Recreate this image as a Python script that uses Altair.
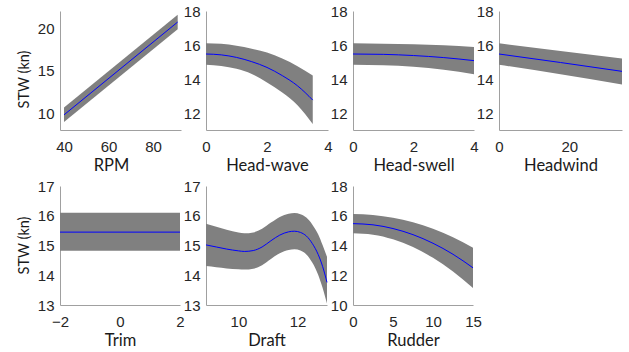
import altair as alt
import pandas as pd

# ---------------- data ----------------
rpm_x = [40, 91.1]
rpm_mid = [9.78, 20.7]
rpm_lo = [8.95, 19.85]
rpm_hi = [10.65, 21.55]

hwave_x = [0, 0.5, 1, 1.5, 2, 2.5, 3, 3.5]
hwave_mid = [15.47, 15.42, 15.27, 15.02, 14.68, 14.2, 13.6, 12.76]
hwave_hi = [16.1, 16.07, 15.95, 15.78, 15.56, 15.2, 14.75, 14.2]
hwave_lo = [14.84, 14.77, 14.6, 14.3, 13.8, 13.2, 12.45, 11.35]

hswell_x = [0, 1, 2, 3, 4]
hswell_mid = [15.47, 15.45, 15.38, 15.26, 15.08]
hswell_hi = [16.1, 16.08, 16.04, 15.98, 15.88]
hswell_lo = [14.84, 14.81, 14.72, 14.54, 14.28]

hwind_x = [0, 17.5, 35]
hwind_mid = [15.47, 14.97, 14.45]
hwind_hi = [16.1, 15.65, 15.2]
hwind_lo = [14.84, 14.28, 13.68]

trim_x = [-2, 2]
trim_mid = [15.45, 15.45]
trim_hi = [16.1, 16.1]
trim_lo = [14.82, 14.82]

draft_x = [8.9, 9.25, 9.6, 10.0, 10.2, 10.5, 10.8, 11.1, 11.4, 11.7, 11.9, 12.1, 12.3, 12.5, 12.7, 12.85, 13.0]
draft_mid = [15.02, 14.95, 14.88, 14.82, 14.80, 14.83, 14.95, 15.16, 15.35, 15.46, 15.48, 15.44, 15.32, 15.07, 14.7, 14.3, 13.76]
draft_hi = [15.73, 15.63, 15.53, 15.44, 15.41, 15.44, 15.56, 15.77, 15.96, 16.07, 16.09, 16.05, 15.94, 15.71, 15.38, 15.02, 14.62]
draft_lo = [14.31, 14.27, 14.23, 14.20, 14.19, 14.22, 14.34, 14.55, 14.74, 14.85, 14.87, 14.83, 14.70, 14.43, 14.02, 13.58, 13.05]

rudder_x = [0, 2.5, 5, 7.5, 10, 12.5, 15]
rudder_mid = [15.47, 15.39, 15.14, 14.73, 14.15, 13.41, 12.5]
rudder_hi = [16.12, 16.05, 15.86, 15.56, 15.13, 14.56, 13.85]
rudder_lo = [14.82, 14.73, 14.42, 13.9, 13.17, 12.26, 11.15]

BAND = "#808080"
LINE = "#0000ff"
H = 119


def panel(xv, mid, lo, hi, xdom, ydom, xticks, yticks, xtitle, w,
          ytitle=None, ytitle_y=None, xtitle_x=None):
    df = pd.DataFrame({"x": xv, "mid": mid, "lo": lo, "hi": hi})
    xs = alt.Scale(domain=xdom, nice=False, zero=False)
    ys = alt.Scale(domain=ydom, nice=False, zero=False)
    xkw = dict(values=xticks, title=xtitle, titleY=40, titleBaseline="alphabetic")
    if xtitle_x is not None:
        xkw["titleX"] = xtitle_x
    xax = alt.Axis(**xkw)
    if ytitle:
        yax = alt.Axis(values=yticks, title=ytitle, titleX=-32, titleY=ytitle_y,
                       titleBaseline="alphabetic", titleAngle=270, titleFontSize=14.5)
    else:
        yax = alt.Axis(values=yticks, title=None)
    band = alt.Chart(df).mark_area(color=BAND, opacity=1, interpolate="monotone").encode(
        x=alt.X("x:Q", scale=xs, axis=xax),
        y=alt.Y("lo:Q", scale=ys, axis=yax),
        y2="hi:Q",
    )
    line = alt.Chart(df).mark_line(color=LINE, strokeWidth=1, interpolate="monotone").encode(
        x=alt.X("x:Q", scale=xs, axis=xax),
        y=alt.Y("mid:Q", scale=ys, axis=yax),
    )
    return alt.layer(band, line).properties(width=w, height=H)


p_rpm = panel(rpm_x, rpm_mid, rpm_lo, rpm_hi, [38.2, 92.6], [8, 22], [40, 60, 80], [10, 15, 20],
              "RPM", 121, ytitle="STW (kn)", ytitle_y=68, xtitle_x=51)
p_hwave = panel(hwave_x, hwave_mid, hwave_lo, hwave_hi, [0, 4], [11, 18], [0, 2, 4], [12, 14, 16, 18],
                "Head-wave", 122)
p_hswell = panel(hswell_x, hswell_mid, hswell_lo, hswell_hi, [0, 4], [11, 18], [0, 2, 4], [12, 14, 16, 18],
                 "Head-swell", 121)
p_hwind = panel(hwind_x, hwind_mid, hwind_lo, hwind_hi, [0, 35], [11, 18], [0, 20], [12, 14, 16, 18],
                "Headwind", 123)
p_trim = panel(trim_x, trim_mid, trim_lo, trim_hi, [-2, 2], [13, 17], [-2, 0, 2], [13, 14, 15, 16, 17],
               "Trim", 120, ytitle="STW (kn)", ytitle_y=59)
p_draft = panel(draft_x, draft_mid, draft_lo, draft_hi, [8.9, 13], [13, 17], [10, 12], [13, 14, 15, 16, 17],
                "Draft", 121)
p_rudder = panel(rudder_x, rudder_mid, rudder_lo, rudder_hi, [0, 15], [10, 18], [0, 5, 10, 15],
                 [10, 12, 14, 16, 18], "Rudder", 120)

chart = alt.concat(
    p_rpm, p_hwave, p_hswell, p_hwind, p_trim, p_draft, p_rudder,
    columns=4, spacing={"row": 56, "column": 25}, bounds="flush",
).properties(
    padding={"left": 16, "top": 4, "right": 4, "bottom": 2},
    background="white",
).configure_view(strokeWidth=0).configure_axis(
    labelFont="Liberation Sans", labelFontSize=15, labelColor="#262626",
    titleFont="Lato", titleFontSize=16.5, titleFontWeight="normal", titleColor="#1a1a1a",
    domainColor="#a0a0a0", domainWidth=1, ticks=False, tickSize=0, grid=False,
    labelFlush=False, labelOverlap=False,
).configure_axisX(labelPadding=9).configure_axisY(labelPadding=6)

chart.save("out.html", embed_options={"renderer": "svg", "actions": False})
